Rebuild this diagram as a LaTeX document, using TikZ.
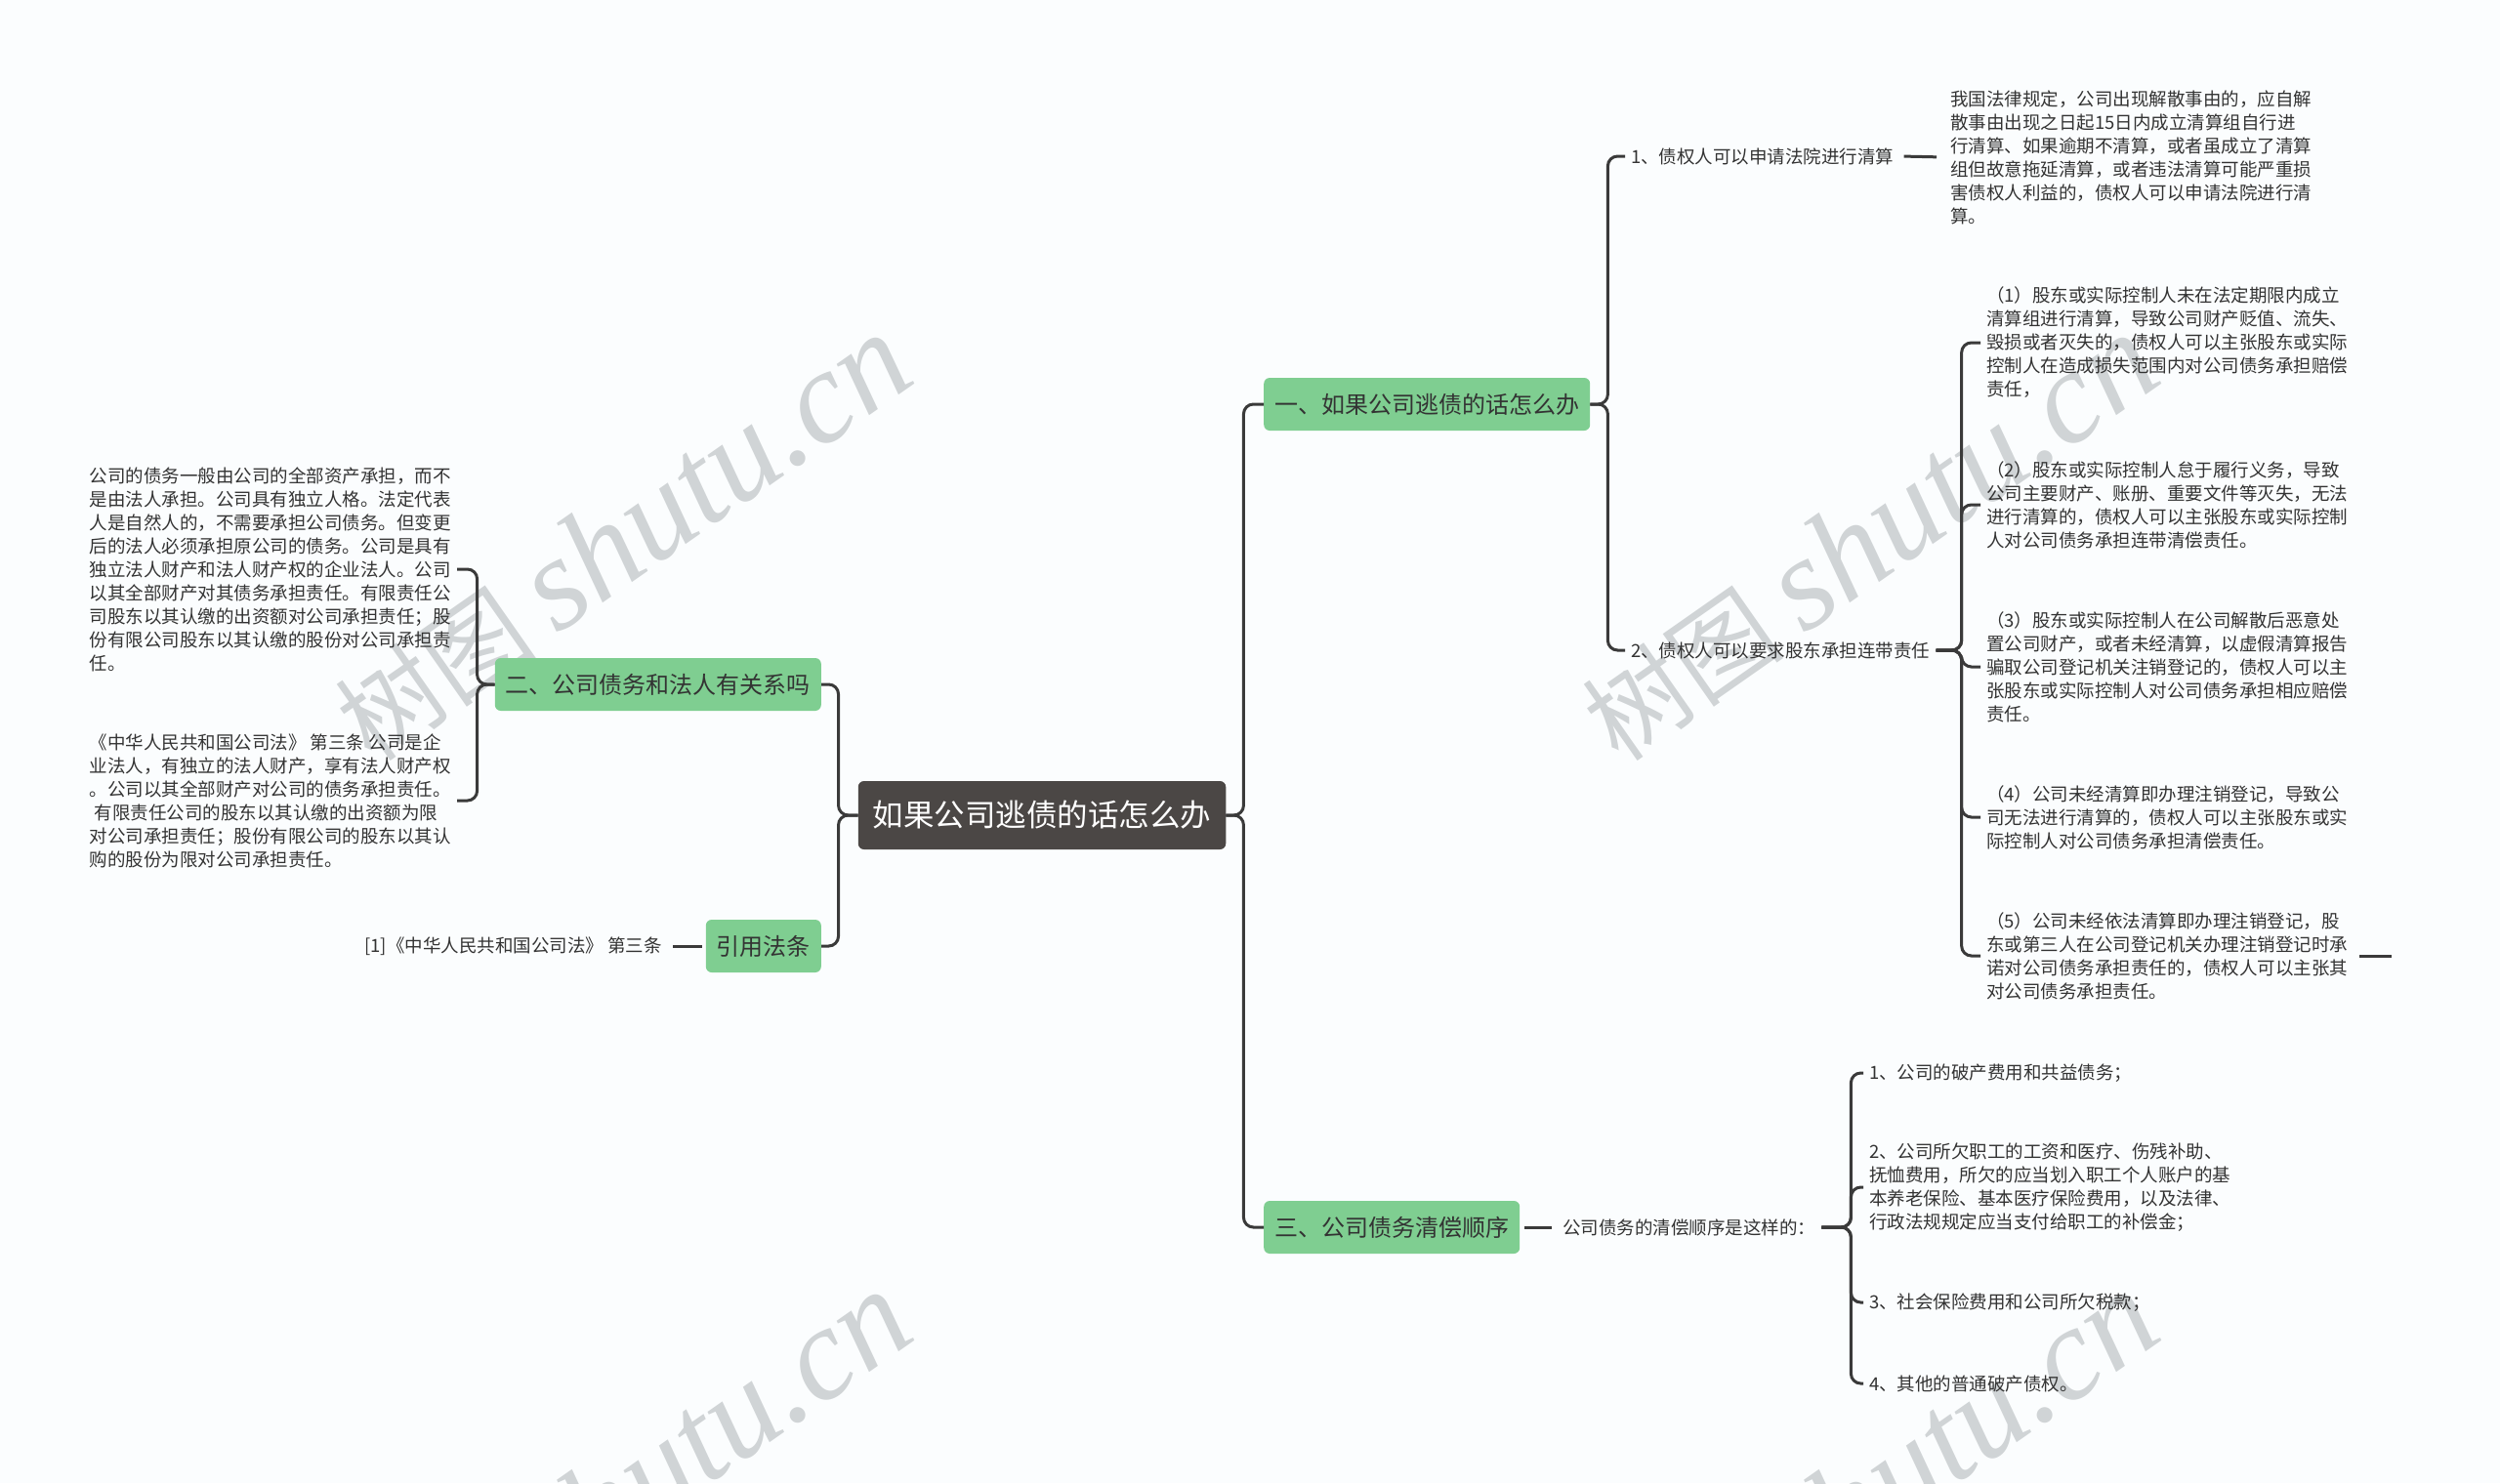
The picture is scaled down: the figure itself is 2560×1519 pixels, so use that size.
\documentclass[tikz,border=0pt]{standalone}
\usepackage{fontspec}
\setmainfont{Noto Sans CJK SC}
\newfontfamily\wmlatin{Liberation Serif}
\definecolor{bgpaper}{RGB}{251,253,254}
\definecolor{rootgray}{RGB}{75,71,69}
\definecolor{topicgreen}{RGB}{127,206,145}
\definecolor{ink}{RGB}{51,51,51}
\definecolor{linkgray}{RGB}{58,58,58}
\definecolor{wmgray}{RGB}{208,212,214}

\begin{document}
\begin{tikzpicture}[x=1pt,y=-1pt,
  root/.style={fill=rootgray,text=white,rounded corners=6pt,inner xsep=15pt,
    minimum height=70pt,font=\fontsize{31.5}{36}\selectfont},
  topic/.style={fill=topicgreen,text=ink,rounded corners=6pt,inner xsep=11pt,
    minimum height=54pt,font=\fontsize{24}{28}\selectfont},
  leaf/.style={text=ink,align=left,inner xsep=6pt,inner ysep=3pt,
    font=\fontsize{18.5}{24}\selectfont},
  link/.style={draw=linkgray,line width=3pt,rounded corners=10pt},
  wmark/.style={rotate=35,anchor=base east,inner sep=0pt,text=wmgray,
    font=\fontsize{135}{135}\selectfont}]
\useasboundingbox (0,0) rectangle (2560,1519);
\fill[bgpaper] (0,0) rectangle (2560,1519);

% watermark
\foreach \wx/\wy [count=\k] in {942/390,2219/390,942/1370,2219/1370}
  \node[wmark] (wm\k) at (\wx,\wy)
    {{\fontsize{104}{104}\selectfont 树图}\hspace{22pt}{\wmlatin\itshape shutu.cn}};

% centre and main topics
\node[root] (root) at (1067,835) {如果公司逃债的话怎么办};
\node[topic,anchor=west] (b1) at (1294,414) {一、如果公司逃债的话怎么办};
\node[topic,anchor=west] (b3) at (1294,1257) {三、公司债务清偿顺序};
\node[topic,anchor=east] (b2) at (841,701) {二、公司债务和法人有关系吗};
\node[topic,anchor=east] (cite) at (841,969) {引用法条};

% branch one
\node[leaf,anchor=west] (c11) at (1664,160) {1、债权人可以申请法院进行清算};
\node[leaf,anchor=west] (d11) at (1991,161) {我国法律规定，公司出现解散事由的，应自解\\
  散事由出现之日起15日内成立清算组自行进\\
  行清算、如果逾期不清算，或者虽成立了清算\\
  组但故意拖延清算，或者违法清算可能严重损\\
  害债权人利益的，债权人可以申请法院进行清\\
  算。};
\node[leaf,anchor=west] (c12) at (1664,666) {2、债权人可以要求股东承担连带责任};
\node[leaf,anchor=west] (e1) at (2028,351) {（1）股东或实际控制人未在法定期限内成立\\
  清算组进行清算，导致公司财产贬值、流失、\\
  毁损或者灭失的，债权人可以主张股东或实际\\
  控制人在造成损失范围内对公司债务承担赔偿\\
  责任，};
\node[leaf,anchor=west] (e2) at (2028,517) {（2）股东或实际控制人怠于履行义务，导致\\
  公司主要财产、账册、重要文件等灭失，无法\\
  进行清算的，债权人可以主张股东或实际控制\\
  人对公司债务承担连带清偿责任。};
\node[leaf,anchor=west] (e3) at (2028,683) {（3）股东或实际控制人在公司解散后恶意处\\
  置公司财产，或者未经清算，以虚假清算报告\\
  骗取公司登记机关注销登记的，债权人可以主\\
  张股东或实际控制人对公司债务承担相应赔偿\\
  责任。};
\node[leaf,anchor=west] (e4) at (2028,837) {（4）公司未经清算即办理注销登记，导致公\\
  司无法进行清算的，债权人可以主张股东或实\\
  际控制人对公司债务承担清偿责任。};
\node[leaf,anchor=west] (e5) at (2028,979) {（5）公司未经依法清算即办理注销登记，股\\
  东或第三人在公司登记机关办理注销登记时承\\
  诺对公司债务承担责任的，债权人可以主张其\\
  对公司债务承担责任。};
\coordinate (stub) at (2449,979);

% branch three
\node[leaf,anchor=west] (f) at (1594,1257) {公司债务的清偿顺序是这样的：};
\node[leaf,anchor=west] (g1) at (1908,1099) {1、公司的破产费用和共益债务；};
\node[leaf,anchor=west] (g2) at (1908,1216) {2、公司所欠职工的工资和医疗、伤残补助、\\
  抚恤费用，所欠的应当划入职工个人账户的基\\
  本养老保险、基本医疗保险费用，以及法律、\\
  行政法规规定应当支付给职工的补偿金；};
\node[leaf,anchor=west] (g3) at (1908,1334) {3、社会保险费用和公司所欠税款；};
\node[leaf,anchor=west] (g4) at (1908,1417) {4、其他的普通破产债权。};

% branch two and citation
\node[leaf,anchor=east] (a1) at (468,583) {公司的债务一般由公司的全部资产承担，而不\\
  是由法人承担。公司具有独立人格。法定代表\\
  人是自然人的，不需要承担公司债务。但变更\\
  后的法人必须承担原公司的债务。公司是具有\\
  独立法人财产和法人财产权的企业法人。公司\\
  以其全部财产对其债务承担责任。有限责任公\\
  司股东以其认缴的出资额对公司承担责任；股\\
  份有限公司股东以其认缴的股份对公司承担责\\
  任。};
\node[leaf,anchor=east] (a2) at (468,820) {《中华人民共和国公司法》 第三条 公司是企\\
  业法人，有独立的法人财产，享有法人财产权\\
  。公司以其全部财产对公司的债务承担责任。\\
  \hspace*{5pt}有限责任公司的股东以其认缴的出资额为限\\
  对公司承担责任；股份有限公司的股东以其认\\
  购的股份为限对公司承担责任。};
\node[leaf,anchor=east] (h) at (684,969) {[1]《中华人民共和国公司法》 第三条};

% connectors
\foreach \c in {b1,b3} \draw[link] (root.east) -- ++(18,0) |- (\c.west);
\foreach \c in {b2,cite} \draw[link] (root.west) -- ++(-20,0) |- (\c.east);
\foreach \c in {c11,c12} \draw[link] (b1.east) -- ++(18,0) |- (\c.west);
\foreach \c in {e1,e2,e3,e4,e5} \draw[link] (c12.east) -- ++(26,0) |- (\c.west);
\foreach \c in {g1,g2,g3,g4} \draw[link] (f.east) -- ++(30,0) |- (\c.west);
\foreach \c in {a1,a2} \draw[link] (b2.west) -- ++(-18,0) |- (\c.east);
\draw[link,shorten <=4pt,shorten >=8pt] (c11.east) -- (d11.west);
\draw[link,shorten <=5pt,shorten >=5pt] (b3.east) -- (f.west);
\draw[link,shorten <=4pt,shorten >=5pt] (cite.west) -- (h.east);
\draw[link,shorten <=6pt] (e5.east) -- (stub);
\end{tikzpicture}
\end{document}
